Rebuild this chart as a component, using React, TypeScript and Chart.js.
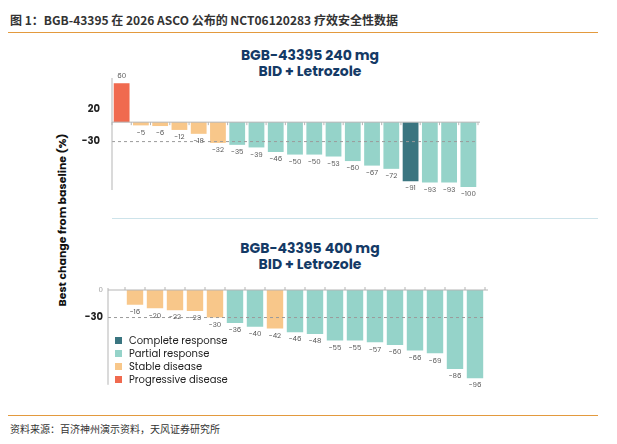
import React, { useEffect, useRef } from "react";
import { Chart, registerables } from "chart.js";
Chart.register(...registerables);

const topValues = [60, -5, -6, -12, -18, -32, -35, -39, -46, -50, -50, -53, -60, -67, -72, -91, -93, -93, -100];
const topStatus = ["PD", "SD", "SD", "SD", "SD", "SD", "PR", "PR", "PR", "PR", "PR", "PR", "PR", "PR", "PR", "CR", "PR", "PR", "PR"];
const botValues = [-16, -20, -22, -23, -30, -36, -40, -42, -46, -48, -55, -55, -57, -60, -66, -69, -86, -96];
const botStatus = ["SD", "SD", "SD", "SD", "SD", "PR", "PR", "SD", "PR", "PR", "PR", "PR", "PR", "PR", "PR", "PR", "PR", "PR"];
const topTicks = [20, -30];
const botTicks = [0, -30];
const legendLabels = ["Complete response", "Partial response", "Stable disease", "Progressive disease"];
const legendKeys = ["CR", "PR", "SD", "PD"];
const colors: Record<string, string> = { CR: "#3A7580", PR: "#95D3C9", SD: "#F8C78A", PD: "#F06A4F" };

const FONT = "Poppins, Lato, 'Noto Sans', sans-serif";

function makePlugin(opts: { leftAxisOffset: number; topTicksUp: boolean }) {
  return {
    id: "custom",
    afterDatasetsDraw(chart: any) {
      const { ctx, chartArea } = chart;
      const y = chart.scales.y;
      const meta = chart.getDatasetMeta(0);
      ctx.save();
      ctx.strokeStyle = "#9a9a9a";
      ctx.setLineDash([3, 3]);
      ctx.lineWidth = 1;
      const y30 = y.getPixelForValue(-30);
      ctx.beginPath();
      ctx.moveTo(chartArea.left - opts.leftAxisOffset, y30);
      ctx.lineTo(chartArea.right, y30);
      ctx.stroke();
      ctx.setLineDash([]);
      const y0 = y.getPixelForValue(0);
      ctx.strokeStyle = "#b5b5b5";
      ctx.beginPath();
      ctx.moveTo(chartArea.left - opts.leftAxisOffset, y0);
      ctx.lineTo(chartArea.right + 3, y0);
      ctx.stroke();
      const w = meta.data.length ? (chartArea.right - chartArea.left) / meta.data.length : 0;
      for (let i = 0; i <= meta.data.length; i++) {
        const x = chartArea.left + i * w;
        ctx.beginPath();
        ctx.moveTo(x, y0);
        ctx.lineTo(x, opts.topTicksUp ? y0 - 3 : y0 + 3);
        ctx.stroke();
      }
      const lx = chartArea.left - opts.leftAxisOffset;
      ctx.beginPath();
      ctx.moveTo(lx, chartArea.top - 2);
      ctx.lineTo(lx, chartArea.bottom + 3);
      ctx.stroke();
      ctx.fillStyle = "#555";
      ctx.font = `7px ${FONT}`;
      ctx.textAlign = "center";
      const vals = chart.data.datasets[0].data as number[];
      meta.data.forEach((bar: any, i: number) => {
        const v = vals[i];
        if (v >= 0) {
          ctx.textBaseline = "bottom";
          ctx.fillText(String(v), bar.x, bar.y - 3);
        } else {
          ctx.textBaseline = "top";
          ctx.fillText(String(v), bar.x, bar.y + 4);
        }
      });
      ctx.restore();
    },
  };
}

function WaterfallChart(props: {
  values: number[];
  status: string[];
  ticks: number[];
  min: number;
  max: number;
  axisWidth: number;
  padding: any;
  leftAxisOffset: number;
  tickPad: number;
  topTicksUp: boolean;
  barPct: number;
}) {
  const ref = useRef<HTMLCanvasElement>(null);
  useEffect(() => {
    const chart = new Chart(ref.current!, {
      type: "bar",
      data: {
        labels: props.values.map((_, i) => String(i + 1)),
        datasets: [
          {
            data: props.values,
            backgroundColor: props.status.map((s) => colors[s]),
            barPercentage: props.barPct,
            categoryPercentage: 1,
          },
        ],
      },
      options: {
        animation: false,
        responsive: true,
        maintainAspectRatio: false,
        layout: { padding: props.padding },
        plugins: { legend: { display: false }, tooltip: { enabled: false } },
        scales: {
          x: { display: false },
          y: {
            min: props.min,
            max: props.max,
            border: { display: false },
            grid: { display: false },
            afterBuildTicks: (s: any) => {
              s.ticks = props.ticks.map((v) => ({ value: v }));
            },
            afterFit: (s: any) => {
              s.width = props.axisWidth;
            },
            ticks: {
              autoSkip: false,
              padding: props.tickPad,
              color: (c: any) => (c.tick && c.tick.value === 0 ? "#999" : "#222"),
              font: (c: any) =>
                c.tick && c.tick.value === 0
                  ? { size: 7, family: FONT }
                  : { size: 10, weight: "bold", family: FONT },
            },
          },
        },
      },
      plugins: [makePlugin({ leftAxisOffset: props.leftAxisOffset, topTicksUp: props.topTicksUp })],
    } as any);
    return () => chart.destroy();
  }, []);
  return <canvas ref={ref} />;
}

const titleStyle: React.CSSProperties = {
  position: "absolute",
  textAlign: "center",
  color: "#143a66",
  fontFamily: FONT,
  fontWeight: "bold",
  fontSize: 14,
  lineHeight: "16px",
};

export default function App() {
  useEffect(() => {
    document.body.style.margin = "0";
  }, []);
  return (
    <div style={{ position: "relative", width: 617, height: 444, background: "#fff", fontFamily: "'Noto Sans CJK SC', sans-serif", overflow: "hidden" }}>
      <div style={{ position: "absolute", left: 10, top: 11, fontSize: 12, fontWeight: "bold", color: "#333" }}>
        图 1：BGB-43395 在 2026 ASCO 公布的 NCT06120283 疗效安全性数据
      </div>
      <div style={{ position: "absolute", left: 8, top: 32, width: 590, height: 1, background: "#E39A3E" }} />
      <div style={{ ...titleStyle, left: 180, top: 47, width: 260 }}>
        BGB-43395 240 mg
        <br />
        BID + Letrozole
      </div>
      <div style={{ ...titleStyle, left: 180, top: 240, width: 260 }}>
        BGB-43395 400 mg
        <br />
        BID + Letrozole
      </div>
      <div style={{ position: "absolute", left: 112, top: 218, width: 486, height: 1, background: "#cde3ea" }} />
      <div
        style={{
          position: "absolute",
          left: 62,
          top: 220,
          transform: "translate(-50%, -50%) rotate(-90deg)",
          whiteSpace: "nowrap",
          fontFamily: FONT,
          fontWeight: "bold",
          fontSize: 11,
          color: "#111",
        }}
      >
        Best change from baseline (%)
      </div>
      <div style={{ position: "absolute", left: 80, top: 70, width: 400, height: 140 }}>
        <WaterfallChart
          values={topValues}
          status={topStatus}
          ticks={topTicks}
          min={-100}
          max={65}
          axisWidth={32}
          padding={{ top: 10, bottom: 23, right: 2, left: 0 }}
          leftAxisOffset={0}
          tickPad={4}
          topTicksUp={false}
          barPct={0.82}
        />
      </div>
      <div style={{ position: "absolute", left: 76, top: 270, width: 412, height: 130 }}>
        <WaterfallChart
          values={botValues}
          status={botStatus}
          ticks={botTicks}
          min={-100}
          max={0}
          axisWidth={49}
          padding={{ top: 9, bottom: 17, right: 3, left: 0 }}
          leftAxisOffset={17}
          tickPad={14}
          topTicksUp={true}
          barPct={0.82}
        />
      </div>
      <div style={{ position: "absolute", left: 115, top: 334, fontFamily: FONT, fontSize: 10, color: "#222" }}>
        {legendLabels.map((l, i) => (
          <div key={l} style={{ display: "flex", alignItems: "center", height: 13 }}>
            <span style={{ width: 7, height: 7, background: colors[legendKeys[i]], marginRight: 7 }} />
            {l}
          </div>
        ))}
      </div>
      <div style={{ position: "absolute", left: 8, top: 415, width: 590, height: 1, background: "#E39A3E" }} />
      <div style={{ position: "absolute", left: 10, top: 421, fontSize: 10, color: "#333" }}>
        资料来源：百济神州演示资料，天风证券研究所
      </div>
    </div>
  );
}
